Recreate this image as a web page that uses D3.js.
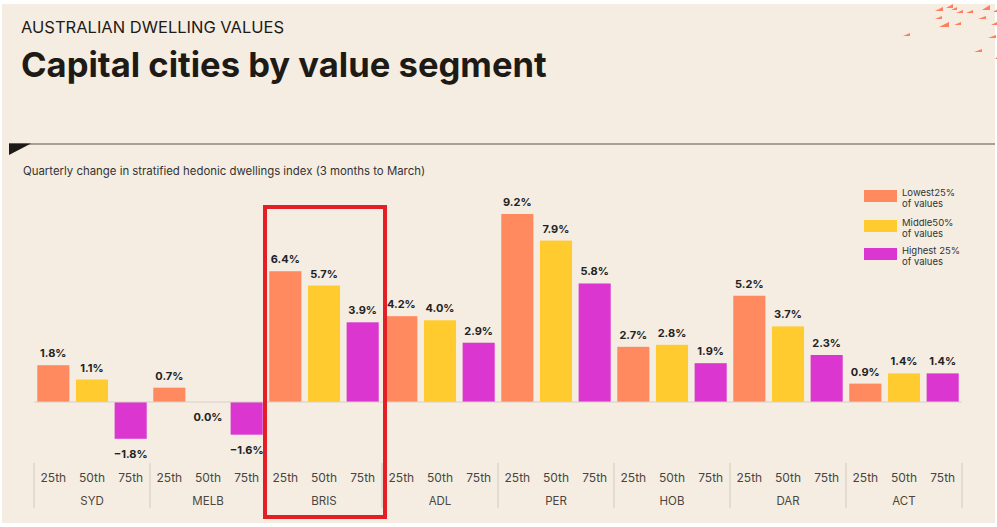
<html>
<head>
    <meta charset="utf-8">
    <script src="https://d3js.org/d3.v7.min.js"></script>
    <style>
        body { margin: 0; background: #fff; }
        svg { display: block; font-family: Inter, "Liberation Sans", sans-serif; }
    </style>
</head>
<body>
    <svg id="chart" width="997" height="527"></svg>
    <script>
        // chart data
        const cities = ["SYD", "MELB", "BRIS", "ADL", "PER", "HOB", "DAR", "ACT"];
        const segments = ["25th", "50th", "75th"];
        const lowest25 = [1.8, 0.7, 6.4, 4.2, 9.2, 2.7, 5.2, 0.9];
        const middle50 = [1.1, 0.0, 5.7, 4.0, 7.9, 2.8, 3.7, 1.4];
        const highest25 = [-1.8, -1.6, 3.9, 2.9, 5.8, 1.9, 2.3, 1.4];
        const legendLabels = [["Lowest25%", "of values"], ["Middle50%", "of values"], ["Highest 25%", "of values"]];
        const highlighted = "BRIS";

        const colors = ["#ff8a5f", "#ffcb2f", "#db37d0"];
        const series = [lowest25, middle50, highest25];

        const rows = [];
        cities.forEach((c, i) => {
            segments.forEach((s, j) => {
                rows.push({city: c, seg: s, si: j, value: series[j][i]});
            });
        });

        const svg = d3.select("#chart");

        // panel
        svg.append("rect").attr("x", 2).attr("y", 4).attr("width", 993).attr("height", 519).attr("fill", "#f5ede2");

        // corner decoration
        const deco = [[935,7,8,4],[946,4,7,4],[951,7,6,3],[956,10,7,3],[966,10,7,3],[982,5,8,5],[993,9,5,3],
                      [935,16,7,3],[939,22,10,5],[954,22,7,3],[978,16,8,3],[991,22,6,3],[903,33,7,3],[988,35,8,3],
                      [974,49,8,3],[995,56,3,3]];
        svg.append("g").selectAll("path").data(deco).join("path")
            .attr("d", d => `M${d[0]},${d[1]+d[3]}L${d[0]+d[2]},${d[1]}L${d[0]+d[2]},${d[1]+d[3]}Z`)
            .attr("fill", "#ff7f5c");

        svg.append("text").attr("x", 21).attr("y", 33).text("AUSTRALIAN DWELLING VALUES")
            .style("font-size", "16.5px").attr("fill", "#1e1a16");
        svg.append("text").attr("x", 21).attr("y", 77).text("Capital cities by value segment")
            .style("font-size", "34.6px").style("font-weight", "700").attr("fill", "#1e1a16");

        svg.append("line").attr("x1", 9).attr("x2", 995).attr("y1", 144).attr("y2", 144)
            .attr("stroke", "#8c847b").attr("stroke-width", 1.5);
        svg.append("path").attr("d", "M9,143.5L31,143.5L9,155Z").attr("fill", "#1e1a16");

        svg.append("text").attr("x", 23).attr("y", 175).text("Quarterly change in stratified hedonic dwellings index (3 months to March)")
            .style("font-size", "11.4px").attr("fill", "#333");

        // scales
        const x0 = d3.scaleBand().domain(cities).range([34, 962]);
        const x1 = d3.scaleBand().domain(segments).range([0, x0.bandwidth()]).paddingInner(0.17).paddingOuter(0.085);
        const y = d3.scaleLinear().domain([0, 9.2]).range([402, 214]);

        const g = svg.append("g");
        g.selectAll("rect.bar").data(rows).join("rect")
            .attr("class", "bar")
            .attr("x", d => x0(d.city) + x1(d.seg))
            .attr("width", x1.bandwidth())
            .attr("y", d => y(Math.max(0, d.value)))
            .attr("height", d => Math.abs(y(d.value) - y(0)))
            .attr("fill", d => colors[d.si]);

        g.append("line").attr("x1", x0.range()[0]).attr("x2", x0.range()[1])
            .attr("y1", y(0)).attr("y2", y(0)).attr("stroke", "#d8d0c6").attr("stroke-width", 1.2);

        g.selectAll("text.val").data(rows).join("text")
            .attr("class", "val")
            .attr("x", d => x0(d.city) + x1(d.seg) + x1.bandwidth() / 2)
            .attr("y", d => d.value > 0 ? y(d.value) - 8 : y(Math.min(0, d.value)) + 19)
            .attr("text-anchor", "middle")
            .style("font-size", "11px").style("font-weight", "700").attr("fill", "#222")
            .text(d => d3.format(".1f")(d.value) + "%");

        // axes
        const axisY = 463;
        const segAxis = svg.append("g").attr("transform", `translate(0,${axisY})`);
        cities.forEach(c => {
            segAxis.append("g").attr("transform", `translate(${x0(c)},0)`)
                .call(d3.axisBottom(x1).tickSize(0).tickPadding(10))
                .call(a => a.select(".domain").remove())
                .selectAll("text").style("font-size", "12px").style("font-family", "Inter, sans-serif").attr("fill", "#4a4540");
        });
        svg.append("g").attr("transform", `translate(0,${axisY + 24})`)
            .call(d3.axisBottom(x0).tickSize(0).tickPadding(10))
            .call(a => a.select(".domain").remove())
            .selectAll("text").style("font-size", "11.5px").style("font-family", "Inter, sans-serif").attr("fill", "#4a4540");

        const seps = cities.map(c => x0(c)).concat([x0.range()[1]]);
        svg.append("g").selectAll("line").data(seps).join("line")
            .attr("x1", d => d).attr("x2", d => d)
            .attr("y1", axisY).attr("y2", axisY + 45)
            .attr("stroke", "#ddd5ca").attr("stroke-width", 1.5);

        // legend
        const legend = svg.append("g").attr("transform", "translate(864,190)");
        legendLabels.forEach((lab, i) => {
            const row = legend.append("g").attr("transform", `translate(0,${[0, 30, 58][i]})`);
            row.append("rect").attr("width", 33).attr("height", 12).attr("fill", colors[i]);
            row.append("text").attr("x", 38).attr("y", 6).text(lab[0]).style("font-size", "9.5px").attr("fill", "#333");
            row.append("text").attr("x", 38).attr("y", 17).text(lab[1]).style("font-size", "9.5px").attr("fill", "#333");
        });

        // highlight box
        const hx = x0(highlighted);
        svg.append("rect").attr("x", hx - 1).attr("y", 207).attr("width", x0.bandwidth() + 4).attr("height", 310)
            .attr("fill", "none").attr("stroke", "#e41e25").attr("stroke-width", 4);
    </script>
</body></html>
